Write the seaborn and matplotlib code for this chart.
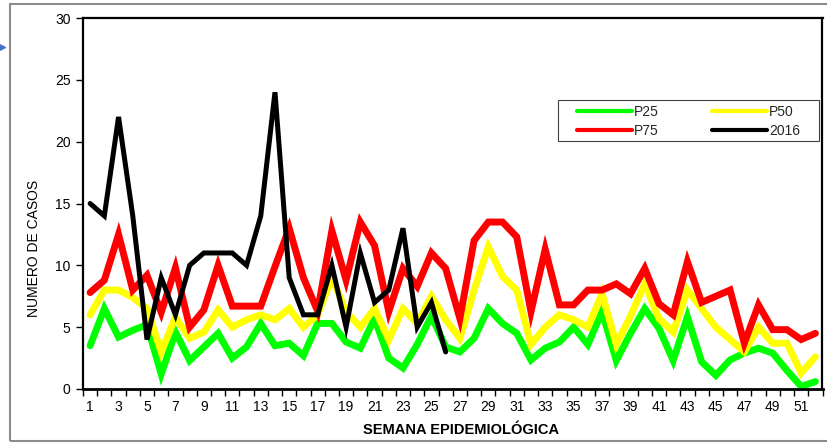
import matplotlib
matplotlib.use("Agg")
import matplotlib.pyplot as plt
import seaborn as sns
import numpy as np
import pandas as pd
from matplotlib.patches import Rectangle
from matplotlib.lines import Line2D
from matplotlib.ticker import MultipleLocator, FixedLocator

weeks = list(range(1, 53))
p25 = [3.5, 6.5, 4.2, 4.75, 5.2, 1.2, 4.6, 2.3, 3.4, 4.5, 2.5, 3.4, 5.3, 3.5, 3.7, 2.7,
       5.3, 5.3, 3.8, 3.3, 5.7, 2.5, 1.7, 3.6, 5.9, 3.4, 3.0, 4.1, 6.5, 5.3, 4.5,
       2.35, 3.3, 3.8, 5.0, 3.6, 6.25, 2.3, 4.5, 6.5, 4.9, 2.3, 5.85, 2.2, 1.1, 2.35,
       2.9, 3.3, 2.9, 1.5, 0.2, 0.6]
p50 = [6.0, 8.0, 8.0, 7.4, 6.5, 3.0, 5.8, 4.1, 4.6, 6.4, 5.0, 5.6, 6.0, 5.6, 6.5, 5.0,
       6.0, 9.0, 6.25, 5.0, 6.5, 4.0, 6.5, 5.3, 7.5, 5.6, 4.1, 8.0, 11.5, 9.1, 8.0,
       3.6, 5.0, 6.0, 5.6, 5.0, 7.7, 3.6, 5.9, 8.5, 5.7, 4.6, 8.0, 6.5, 5.0, 4.0,
       3.0, 5.0, 3.7, 3.7, 1.3, 2.6]
p75 = [7.8, 8.8, 12.5, 8.0, 9.2, 6.2, 9.8, 5.0, 6.4, 10.0, 6.7, 6.7, 6.7, 9.9, 13.0, 9.0,
       6.3, 12.8, 8.8, 13.5, 11.6, 6.25, 9.75, 8.3, 11.0, 9.75, 5.7, 12.0, 13.5, 13.5, 12.3,
       6.25, 11.3, 6.8, 6.8, 8.0, 8.0, 8.5, 7.7, 9.75, 6.9, 6.0, 10.3, 7.0, 7.5, 8.0,
       3.7, 6.8, 4.8, 4.8, 4.0, 4.5]
weeks_2016 = list(range(1, 27))
y2016 = [15, 14, 22, 14, 4, 9, 6, 10, 11, 11, 11, 10, 14, 24, 9, 6, 6, 10, 5, 11, 7, 8,
         13, 5, 7, 3]
xticklabels = [str(w) for w in range(1, 53, 2)]

sns.set_theme(style="white")
plt.rcParams['font.family'] = ['Liberation Sans', 'DejaVu Sans']

fig = plt.figure(figsize=(8.28, 4.43), dpi=100)
L, R, T, B = 83, 822.5, 18, 389
W, H = 828, 443
ax = fig.add_axes([L / W, 1 - B / H, (R - L) / W, (B - T) / H])

series = [("P25", p25, "#00FF00"), ("P50", p50, "#FFFF00"), ("P75", p75, "#FF0000")]
for name, vals, col in series:
    sns.lineplot(x=weeks, y=vals, color=col, lw=5.0, ax=ax, label=name,
                 solid_capstyle="round", solid_joinstyle="miter")
sns.lineplot(x=weeks_2016, y=y2016, color="black", lw=3.6, ax=ax, label="2016",
             solid_capstyle="round", solid_joinstyle="miter")

ax.set_xlim(0.5, 52.5)
ax.set_ylim(0, 30)
ax.yaxis.set_major_locator(MultipleLocator(5))
ax.xaxis.set_major_locator(FixedLocator(list(range(1, 53, 2))))
ax.set_xticklabels(xticklabels)
ax.xaxis.set_minor_locator(FixedLocator(list(np.arange(0.5, 53, 1.0))))
ax.tick_params(axis="x", which="major", length=0, pad=8, labelsize=10, colors="black")
ax.tick_params(axis="x", which="minor", length=5, width=1.0, color="black", direction="out", bottom=True)
ax.tick_params(axis="y", which="major", length=5, width=1.0, color="black", direction="out",
               left=True, labelsize=10, pad=4, labelcolor="black")
for s in ax.spines.values():
    s.set_color("black")
    s.set_linewidth(1.6)
ax.spines["bottom"].set_linewidth(2.0)
ax.set_xlabel("")
ax.set_ylabel("")

fig.text(461 / W, 1 - 430 / H, "SEMANA EPIDEMIOLÓGICA", ha="center", va="center",
         fontsize=10.5, fontweight="bold", color="black")
fig.text(34 / W, 1 - 248 / H, "NUMERO DE CASOS", ha="center", va="center",
         rotation=90, fontsize=10, color="black")

# legend box (drawn as a patch), legend entries without frame inside it
ax.add_patch(Rectangle((0.6423, 0.6685), 0.353, 0.1105, transform=ax.transAxes,
                       facecolor="white", edgecolor="#404040", lw=0.8, zorder=4))
handles, labels = ax.get_legend_handles_labels()
order = [0, 2, 1, 3]
leg = ax.legend([handles[i] for i in order], [labels[i] for i in order], ncol=2,
                loc="center", bbox_to_anchor=(0.668, 0.671, 0.3016, 0.1), mode="expand",
                frameon=False, fontsize=10, handlelength=3.95,
                borderaxespad=0, borderpad=0, labelspacing=0.35, handletextpad=0.15,
                columnspacing=2.0)
leg.set_zorder(5)
for lh in leg.get_lines():
    lh.set_linewidth(3.0)
    lh.set_solid_capstyle("round")

# outer frame of the chart object
fig.add_artist(Rectangle((10 / W, 1 - 441 / H), 830 / W, 437 / H, transform=fig.transFigure,
                         fill=False, edgecolor="#8c8c8c", lw=1.5, clip_on=False))
fig.add_artist(Line2D([2 / W], [1 - 47 / H], marker=">", color="#4472C4", markersize=5,
                      transform=fig.transFigure))

fig.savefig("out.png", dpi=100)
